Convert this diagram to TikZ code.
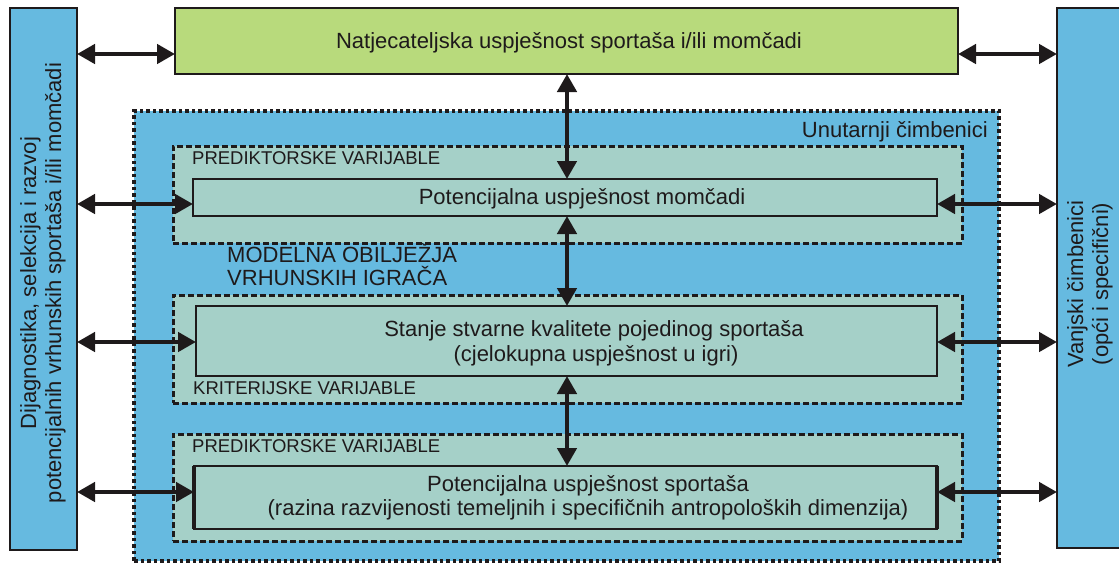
\documentclass[tikz,border=0pt]{standalone}
\usepackage{fontspec}
\setmainfont{Liberation Sans}
\usetikzlibrary{arrows.meta}
\definecolor{skyb}{RGB}{102,186,224}
\definecolor{lgreen}{RGB}{184,218,124}
\definecolor{tealb}{RGB}{165,208,200}
\definecolor{ink}{RGB}{30,26,27}
\begin{document}
\begin{tikzpicture}[x=1pt,y=-1pt,
  box/.style={draw=ink, anchor=north west, inner sep=0pt, outer sep=0pt},
  sidebox/.style={box, fill=skyb, line width=2pt},
  dotbox/.style={box, fill=skyb, line width=3.5pt, dash pattern=on 3.5pt off 3pt},
  dashbox/.style={box, fill=tealb, line width=3pt, dash pattern=on 6pt off 3pt},
  solidbox/.style={box, fill=tealb, line width=1.6pt},
  big/.style={font=\fontsize{22}{24}\selectfont, text=ink, inner sep=0pt},
  small/.style={font=\fontsize{18.5}{20}\selectfont, text=ink, inner sep=0pt, anchor=base west},
  arr/.style={draw=ink, line width=4.5pt, {Triangle[length=18pt,width=19pt]}-{Triangle[length=18pt,width=19pt]}}
]
\useasboundingbox (0,0) rectangle (1119,563);

% side boxes
\node[sidebox, minimum width=67pt, minimum height=542pt] (L) at (10,8) {};
\node[sidebox, minimum width=66pt, minimum height=540pt] (R) at (1057,8) {};
\node[big, rotate=90, align=center] (Ltxt) at (43,283) {Dijagnostika, selekcija i razvoj\\[1pt]potencijalnih vrhunskih sportaša i/ili momčadi};
\node[big, rotate=90, align=center] (Rtxt) at (1090,284) {Vanjski čimbenici\\[1pt](opći i specifični)};

% top green box
\node[box, fill=lgreen, line width=2pt, minimum width=783pt, minimum height=66pt] (G) at (175,8) {};
\node[big, anchor=base] (Gtxt) at (569,48) {Natjecateljska uspješnost sportaša i/ili momčadi};

% outer dotted box
\node[dotbox, minimum width=865pt, minimum height=450pt] (O) at (134,111) {};
\node[big, anchor=base east] (Otxt) at (988,137) {Unutarnji čimbenici};

% dashed groups
\node[dashbox, minimum width=789pt, minimum height=97pt] (D1) at (173,146) {};
\node[dashbox, minimum width=789pt, minimum height=108pt] (D2) at (173,295) {};
\node[dashbox, minimum width=789pt, minimum height=107pt] (D3) at (173,434) {};

\node[small] (p1) at (192,164) {PREDIKTORSKE VARIJABLE};
\node[small] (k2) at (193,394) {KRITERIJSKE VARIJABLE};
\node[small] (p3) at (192,452) {PREDIKTORSKE VARIJABLE};

\node[big, anchor=base west] (m1) at (227,262) {MODELNA OBILJEŽJA};
\node[big, anchor=base west] (m2) at (227,285) {VRHUNSKIH IGRAČA};

% solid boxes
\node[solidbox, minimum width=744pt, minimum height=37pt] (B1) at (193,179) {};
\node[solidbox, minimum width=741pt, minimum height=70pt] (B2) at (196,306) {};
\node[solidbox, minimum width=743pt, minimum height=63pt] (B3) at (194,466) {};
\draw[ink, line width=4pt] (B3.north west) -- (B3.south west);
\draw[ink, line width=4pt] (B3.north east) -- (B3.south east);

\node[big, anchor=base] (b1t) at (582,204) {Potencijalna uspješnost momčadi};
\node[big, anchor=base] (b2t) at (594,336) {Stanje stvarne kvalitete pojedinog sportaša};
\node[big, anchor=base] (b2u) at (596,361) {(cjelokupna uspješnost u igri)};
\node[big, anchor=base] (b3t) at (588,491) {Potencijalna uspješnost sportaša};
\node[big, anchor=base] (b3u) at (588,515) {(razina razvijenosti temeljnih i specifičnih antropoloških dimenzija)};

% arrows
\coordinate (vx) at (567,0);
\coordinate (r0) at (0,54);
\coordinate (r1) at (0,204);
\coordinate (r2) at (0,342);
\coordinate (r3) at (0,492);

\draw[arr] (G.south -| vx) -- (B1.north -| vx);
\draw[arr] (B1.south -| vx) -- (B2.north -| vx);
\draw[arr] (B2.south -| vx) -- (B3.north -| vx);

\draw[arr] (L.east |- r0) -- (G.west |- r0);
\draw[arr] (G.east |- r0) -- (R.west |- r0);
\draw[arr] (L.east |- r1) -- (B1.west |- r1);
\draw[arr] (B1.east |- r1) -- (R.west |- r1);
\draw[arr] (L.east |- r2) -- (B2.west |- r2);
\draw[arr] (B2.east |- r2) -- (R.west |- r2);
\draw[arr] (L.east |- r3) -- (B3.west |- r3);
\draw[arr] (B3.east |- r3) -- (R.west |- r3);
\end{tikzpicture}
\end{document}
